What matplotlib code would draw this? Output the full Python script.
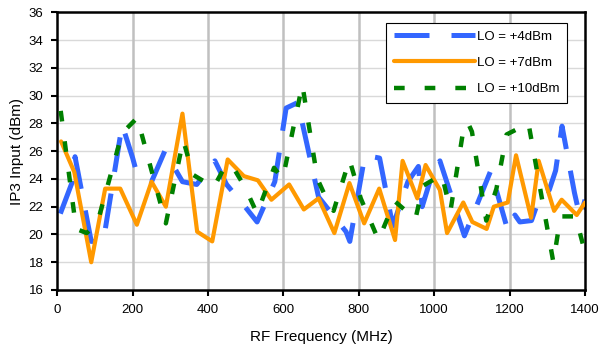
import matplotlib.pyplot as plt

LO4_COLOR = "#3366FF"
LO7_COLOR = "#FF9900"
LO10_COLOR = "#008000"

LO4_FREQ = [8, 40, 47, 90, 122, 172, 200, 212, 250, 285, 332, 370, 418, 449, 498, 530, 577, 607, 638, 693,
            766, 776, 816, 855, 890, 930, 958, 968, 995, 1015, 1080, 1150, 1195, 1214, 1227, 1258, 1285,
            1305, 1322, 1339, 1372, 1387, 1400]
LO4_IP3 = [21.5, 23.8, 25.6, 19.5, 19.5, 27.9, 25.5, 24.3, 23.8, 26.0, 23.8, 23.6, 25.3, 23.6, 22.0, 20.9,
           23.8, 29.1, 29.5, 22.7, 20.2, 19.5, 25.7, 25.5, 20.6, 23.8, 24.9, 22.0, 24.4, 25.3, 19.9, 24.6,
           20.3, 21.4, 20.9, 21.0, 23.1, 23.2, 24.6, 27.8, 23.0, 21.2, 22.5]

LO7_FREQ = [10, 45, 90, 127, 167, 211, 250, 288, 332, 371, 411, 452, 495, 532, 568, 615, 654, 693, 735,
            775, 814, 854, 896, 916, 955, 977, 1015, 1034, 1077, 1101, 1139, 1158, 1195, 1217, 1257, 1277,
            1318, 1338, 1378, 1400]
LO7_IP3 = [26.7, 24.5, 18.0, 23.3, 23.3, 20.7, 23.8, 22.0, 28.7, 20.2, 19.5, 25.4, 24.2, 23.9, 22.5, 23.6,
           21.8, 22.6, 20.1, 23.7, 20.8, 23.3, 19.6, 25.3, 22.6, 25.0, 23.2, 20.1, 22.3, 20.9, 20.4, 22.0,
           22.3, 25.7, 21.2, 25.3, 21.7, 22.5, 21.4, 22.3]

LO10_FREQ = [9, 50, 78, 100, 110, 172, 212, 288, 334, 360, 415, 447, 465, 498, 530, 575, 598, 650, 690,
             717, 733, 775, 805, 852, 895, 950, 970, 1020, 1043, 1080, 1090, 1100, 1138, 1165, 1192, 1250,
             1316, 1335, 1375, 1400]
LO10_IP3 = [28.9, 20.4, 20.1, 20.7, 21.2, 27.3, 28.4, 20.8, 26.8, 24.3, 23.4, 25.0, 24.9, 23.4, 21.5, 24.8,
            24.0, 30.8, 24.0, 22.4, 21.7, 25.4, 22.6, 19.6, 22.4, 21.1, 23.5, 24.3, 21.7, 28.0, 28.0, 27.4,
            21.0, 23.3, 27.2, 28.0, 18.0, 21.3, 21.3, 18.7]

X_TICKS = [0, 200, 400, 600, 800, 1000, 1200, 1400]
Y_TICKS = [16, 18, 20, 22, 24, 26, 28, 30, 32, 34, 36]


def main() -> None:
    plt.rcParams["font.family"] = ["Liberation Sans", "DejaVu Sans"]

    fig = plt.figure(figsize=(6.02, 3.51), dpi=100)
    ax = fig.add_axes([0.0952, 0.1738, 0.8766, 0.7912])

    # light horizontal grid, darker vertical grid
    for y in Y_TICKS[1:-1]:
        ax.axhline(y, color="#d9d9d9", linewidth=1.0, zorder=0)
    for x in X_TICKS[1:-1]:
        ax.axvline(x, color="#c0c0c0", linewidth=1.8, zorder=0)

    ax.plot(LO4_FREQ, LO4_IP3, color=LO4_COLOR, linewidth=3.6, dashes=(7.0, 4.4),
            dash_capstyle="butt", solid_joinstyle="miter", label="LO = +4dBm", zorder=2)
    ax.plot(LO7_FREQ, LO7_IP3, color=LO7_COLOR, linewidth=3.0, solid_capstyle="round",
            label="LO = +7dBm", zorder=3)
    ax.plot(LO10_FREQ, LO10_IP3, color=LO10_COLOR, linewidth=3.2, dashes=(2.4, 4.5),
            dash_capstyle="butt", label="LO = +10dBm", zorder=4)

    ax.set_xlim(0, 1400)
    ax.set_ylim(16, 36)
    ax.set_xticks(X_TICKS)
    ax.set_yticks(Y_TICKS)
    ax.tick_params(direction="out", length=4, width=1.5, labelsize=9.5, pad=6)

    for spine in ax.spines.values():
        spine.set_linewidth(1.8)
        spine.set_color("black")

    ax.set_xlabel("RF Frequency (MHz)", fontsize=11, labelpad=10)
    ax.set_ylabel("IP3 Input (dBm)", fontsize=11, labelpad=3)

    legend = ax.legend(loc="upper right", bbox_to_anchor=(0.966, 0.962), borderaxespad=0,
                       fontsize=9.5, handlelength=6.2, handletextpad=0.1, fancybox=False,
                       framealpha=1, edgecolor="black", borderpad=0.6, labelspacing=1.05)
    legend.get_frame().set_linewidth(0.8)
    legend.set_zorder(5)

    fig.savefig("out.png", dpi=100)
    plt.close(fig)


if __name__ == "__main__":
    main()
